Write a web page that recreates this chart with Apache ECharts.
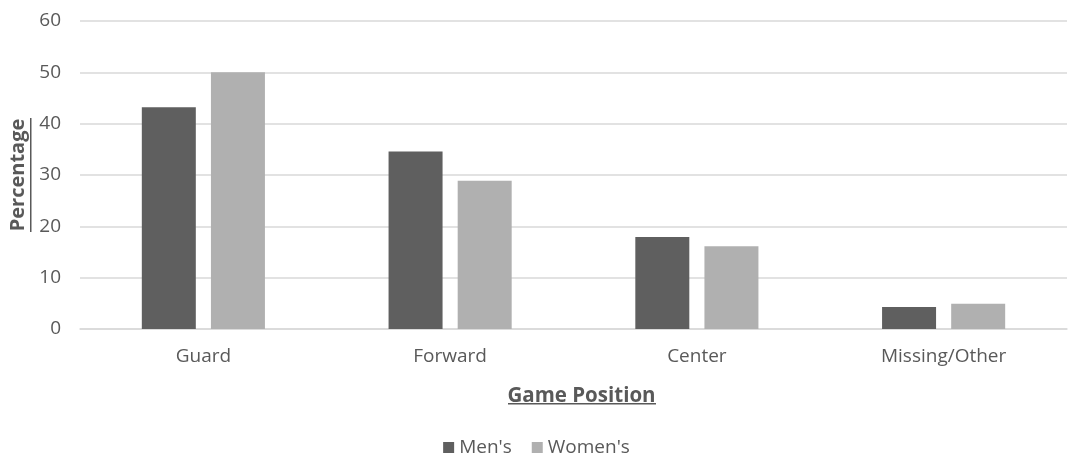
<!DOCTYPE html>
<html>
<head>
<meta charset="utf-8">
<script src="https://cdn.jsdelivr.net/npm/echarts@6/dist/echarts.min.js"></script>
<style>
  html, body { margin: 0; padding: 0; background: #fff; }
  #chart { width: 1073px; height: 458px; }
</style>
</head>
<body>
<div id="chart"></div>
<script>
  // 数据
  var positions = ['Guard', 'Forward', 'Center', 'Missing/Other'];
  var mens = [43.2, 34.6, 17.9, 4.3];
  var womens = [50.0, 28.9, 16.1, 4.9];
  var yTicks = [0, 10, 20, 30, 40, 50, 60];

  var font = '"Open Sans", "Liberation Sans", sans-serif';
  var textGrey = '#595959';

  var myChart = echarts.init(document.getElementById('chart'));
  myChart.setOption({
    animation: false,
    textStyle: { fontFamily: font },
    grid: { left: 80, right: 6, top: 21, bottom: 129 },
    legend: {
      top: 433,
      left: 'center',
      itemWidth: 11,
      itemHeight: 11,
      itemGap: 20,
      icon: 'rect',
      textStyle: { fontSize: 19, color: textGrey, fontFamily: font },
      data: ["Men's", "Women's"]
    },
    xAxis: {
      type: 'category',
      data: positions,
      name: 'Game Position',
      nameLocation: 'middle',
      nameGap: 57,
      nameTextStyle: { fontSize: 20.5, fontWeight: 'bold', color: textGrey, padding: [0, 0, 0, 16] },
      axisLine: { show: true, lineStyle: { color: '#d9d9d9', width: 1.5 } },
      axisTick: { show: false },
      axisLabel: { fontSize: 19, color: textGrey, margin: 18 }
    },
    yAxis: {
      type: 'value',
      min: yTicks[0],
      max: yTicks[yTicks.length - 1],
      interval: 10,
      name: 'Percentage',
      nameLocation: 'middle',
      nameGap: 52,
      nameTextStyle: { fontSize: 20, fontWeight: 'bold', color: textGrey },
      axisLine: { show: false },
      axisTick: { show: false },
      axisLabel: { fontSize: 19, color: textGrey, margin: 19 },
      splitLine: { lineStyle: { color: '#d9d9d9', width: 1.5 } }
    },
    series: [
      {
        name: "Men's",
        type: 'bar',
        data: mens,
        barWidth: 54,
        barGap: '28%',
        itemStyle: { color: '#5f5f5f' }
      },
      {
        name: "Women's",
        type: 'bar',
        data: womens,
        barWidth: 54,
        itemStyle: { color: '#b0b0b0' }
      }
    ],
    // 标题下划线
    graphic: [
      { type: 'rect', shape: { x: 508, y: 403, width: 148, height: 1.5 }, style: { fill: textGrey } },
      { type: 'rect', shape: { x: 30, y: 118, width: 1.5, height: 114 }, style: { fill: textGrey } }
    ]
  });
</script>
</body>
</html>
